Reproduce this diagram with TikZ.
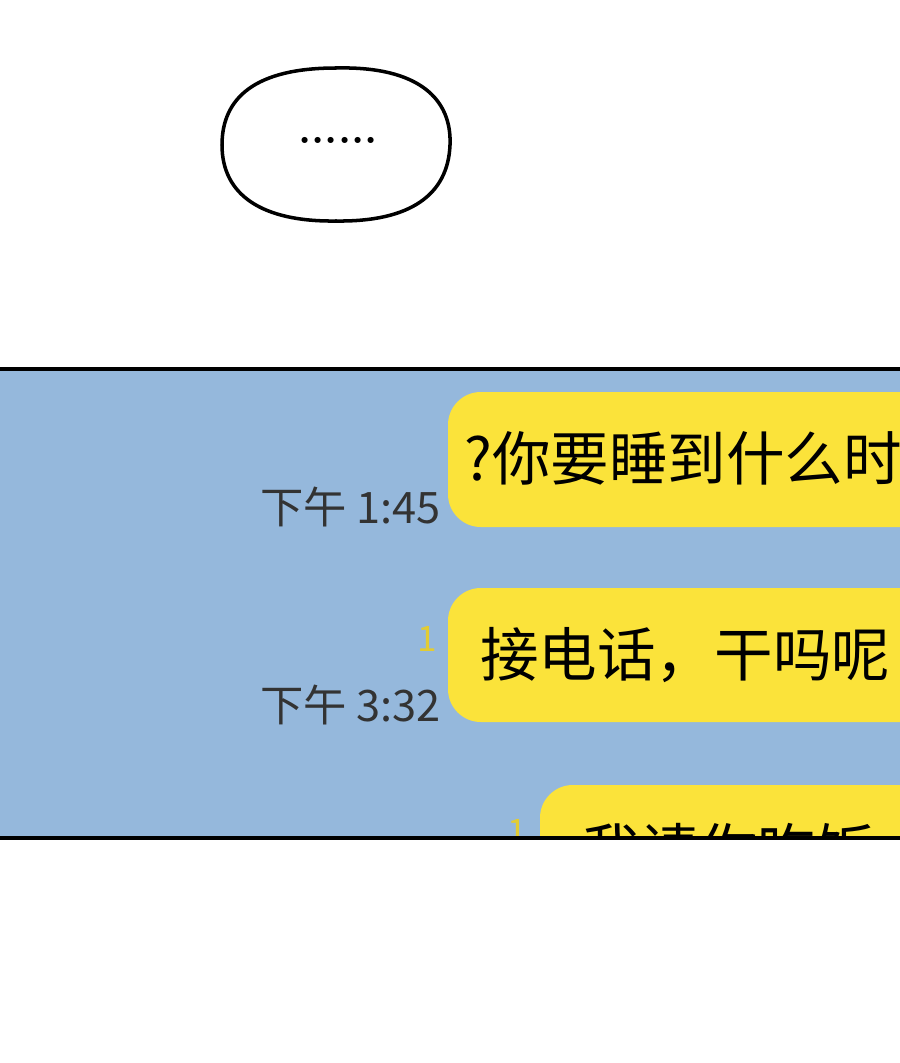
\documentclass[tikz,border=0pt]{standalone}
\usepackage{fontspec}
\newfontfamily\cjk{Noto Sans CJK SC}
\usetikzlibrary{positioning}
\definecolor{panelblue}{HTML}{95B8DC}
\definecolor{msgyellow}{HTML}{FBE33A}
\tikzset{
  msg/.style={fill=msgyellow, rounded corners=28, inner sep=0pt},
  msgtext/.style={anchor=west, font=\cjk\fontsize{50}{56}\selectfont, inner sep=0pt},
  timetext/.style={anchor=east, font=\cjk\fontsize{37}{42}\selectfont, text=black!80, inner sep=0pt},
  unread/.style={anchor=east, font=\cjk\fontsize{30}{34}\selectfont, text=msgyellow!90!black, inner sep=0pt}
}
\begin{document}
\begin{tikzpicture}[x=0.03cm,y=-0.03cm]
          \useasboundingbox (0,0) rectangle (900,1063);
          \fill[white] (0,0) rectangle (900,1063);

          % speech bubble
          \draw[line width=3pt] (336,68) .. controls (420,66) and (452,100) .. (450,145)
            .. controls (448,195) and (410,222) .. (336,221)
            .. controls (262,222) and (222,195) .. (222,145)
            .. controls (222,98) and (255,68) .. (336,68) -- cycle;
          \node[font=\bfseries\fontsize{36}{36}\selectfont] (dots) at (338,140) {......};

          % chat panel
          \begin{scope}
          \clip (-5,369) rectangle (905,838);
          \fill[panelblue] (-5,369) rectangle (905,838);

          \fill[msg] (448,392) rectangle (960,527);
          \node[msgtext] (m1) at (464,458) {?你要睡到什么时};
          \node[timetext] (t1) at (441,507) {下午 1:45};

          \fill[msg] (448,588) rectangle (960,722);
          \node[msgtext] (m2) at (480,655) {接电话，干吗呢};
          \node[unread] (u2) at (437,639) {1};
          \node[timetext] (t2) at (441,705) {下午 3:32};

          \fill[msg] (540,785) rectangle (960,920);
          \node[msgtext] (m3) at (582,850) {我请你吃饭};
          \node[unread] (u3) at (527,832) {1};
          \end{scope}
          \draw[line width=3pt] (-5,369) rectangle (905,838);
    \end{tikzpicture}
\end{document}
